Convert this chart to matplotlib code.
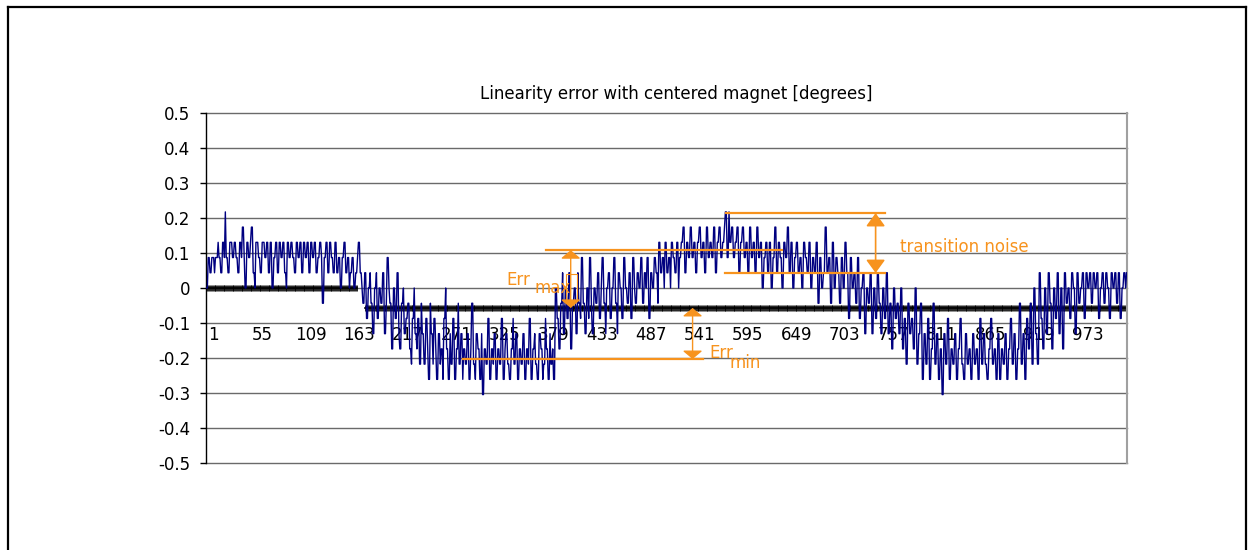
import numpy as np
import matplotlib
matplotlib.use("Agg")
import matplotlib.pyplot as plt
from matplotlib.lines import Line2D
from matplotlib.patches import Rectangle
from matplotlib.transforms import ScaledTranslation

plt.rcParams['font.family'] = ['DejaVu Sans']

LSB_DEG = 0.0435  # one sensor step in degrees

# linearity error per sample in sensor steps (16 samples per row)
err_lsb = [
    0, 0, 2, 2, 1, 1, 2, 2, 2, 1, 2, 2, 2, 3, 2, 2,
    1, 1, 3, 3, 2, 5, 2, 2, 1, 1, 3, 3, 3, 2, 2, 3,
    3, 2, 2, 1, 1, 3, 3, 2, 4, 4, 2, 0, 0, 3, 3, 2,
    2, 3, 4, 4, 1, 1, 0, 3, 3, 3, 2, 2, 1, 1, 3, 3,
    3, 2, 2, 3, 3, 1, 1, 3, 3, 0, 0, 2, 2, 3, 3, 1,
    1, 3, 3, 2, 2, 3, 3, 1, 1, 0, 3, 3, 2, 2, 3, 3,
    2, 2, 1, 1, 3, 3, 2, 2, 3, 3, 1, 1, 3, 3, 2, 2,
    3, 3, 1, 1, 3, 3, 2, 2, 3, 3, 1, 1, 2, 2, 3, 3,
    2, -1, -1, 2, 2, 3, 3, 1, 1, 3, 3, 2, 2, 1, 1, 3,
    3, 1, 1, 2, 2, 0, 0, 2, 2, 3, 3, 1, 1, 2, 2, 0,
    1, 1, 2, 2, 0, 0, 1, 1, 2, 3, 3, 1, 1, 0, -1, -1,
    1, 1, -2, -2, 0, 0, 1, -1, -1, -3, -3, 0, 0, 1, -2, -2,
    0, 0, -1, -1, 1, 1, -3, -3, -1, 2, 2, 0, -1, -1, -4, -4,
    0, 0, -2, -2, 1, 1, -3, -4, -4, -1, -1, 0, -3, -3, -2, -2,
    -1, -1, -4, -4, -5, -2, -2, 0, -3, -3, -4, -2, -2, -5, -5, -1,
    -3, -3, -5, -5, -2, -2, -4, -6, -6, -1, -3, -3, -5, -2, -2, -4,
    -6, -6, -3, -3, -5, -4, -4, -6, -2, -2, 0, -4, -4, -6, -6, -3,
    -5, -5, -2, -2, -6, -6, -4, -4, -1, -5, -5, -3, -3, -6, -4, -4,
    -5, -5, -3, -3, -6, -6, -4, -1, -1, -5, -5, -6, -3, -3, -4, -4,
    -6, -6, -3, -7, -7, -4, -4, -5, -5, -2, -2, -6, -6, -4, -4, -5,
    -3, -3, -6, -6, -4, -4, -5, -5, -2, -2, -6, -6, -4, -3, -3, -5,
    -5, -6, -6, -4, -4, -2, -5, -5, -3, -3, -6, -6, -4, -4, -5, -5,
    -3, -3, -6, -6, -4, -4, -5, -2, -2, -6, -6, -4, -4, -3, -5, -5,
    -6, -6, -3, -3, -4, -4, -6, -5, -5, -2, -4, -4, -6, -6, -3, -5,
    -5, -4, -6, -6, 0, 0, -2, -2, -4, -4, -1, -1, 1, -3, -3, 0,
    0, -2, -2, 1, 1, -4, -4, -1, -1, 0, 0, -3, -3, 1, -1, -1,
    -2, 2, 2, -1, -1, -3, -3, 0, 0, -2, 2, 2, -1, -3, -3, 0,
    0, -1, -1, 1, 1, -2, -2, 0, 2, 2, -1, -1, -3, 0, 0, 1,
    1, -2, -2, 0, 0, 2, 2, -1, -1, -3, 1, 1, 0, 0, -2, -2,
    2, 2, 0, 0, -1, -1, 1, 1, -2, -2, 2, 2, 0, -1, -1, 1,
    1, 0, 0, 2, 2, -1, -1, 1, 1, 0, 2, 2, -2, -2, 1, 1,
    0, 0, 2, 2, 1, 1, -1, 3, 3, 1, 1, 2, 2, 0, 3, 3,
    1, 1, 2, 2, 0, 3, 3, 2, 2, 1, 1, 3, 3, 0, 2, 2,
    3, 3, 4, 4, 1, 1, 3, 3, 2, 2, 4, 4, 2, 2, 3, 3,
    1, 1, 3, 3, 4, 4, 2, 2, 3, 3, 1, 1, 4, 4, 2, 2,
    3, 3, 2, 2, 4, 4, 1, 1, 3, 3, 4, 4, 2, 2, 3, 3,
    4, 5, 5, 2, 2, 5, 3, 3, 4, 4, 2, 2, 3, 3, 4, 4,
    1, 1, 3, 3, 4, 4, 2, 2, 3, 3, 1, 1, 4, 4, 2, 2,
    3, 3, 1, 1, 4, 4, 2, 2, 3, 3, 0, 0, 2, 2, 3, 3,
    1, 1, 3, 3, 0, 0, 2, 2, 4, 4, 1, 1, 3, 3, 2, 2,
    0, 0, 3, 3, 2, 2, 4, 4, 1, 1, 3, 3, 0, 0, 2, 2,
    3, 3, 1, 1, 2, 2, 0, 0, 3, 3, 2, 2, 1, 1, 3, 3,
    0, 0, 2, 2, 1, 1, 3, 3, -1, -1, 2, 2, 0, 0, 1, 1,
    4, 4, 1, 1, 2, 2, -1, -1, 3, 3, 0, 0, 2, 2, 1, 1,
    -1, -1, 2, 2, 0, 0, 3, 3, 1, 1, -2, -2, 2, 2, 0, 0,
    1, 1, -1, -1, 2, 2, -2, -2, 0, 0, 1, 1, -3, -3, 0, 0,
    -1, -1, 1, 1, -3, -3, 0, 0, -2, -2, 1, 1, -1, -1, -3, -3,
    0, 0, -2, -2, 1, 1, -3, -3, -1, -1, -4, -4, 0, 0, -2, -2,
    -1, -1, -3, -3, 0, 0, -4, -4, -2, -2, -5, -5, -1, -1, -3, -3,
    -2, -2, -4, -4, 0, 0, -5, -5, -3, -3, -1, -1, -6, -6, -3, -3,
    -5, -5, -2, -2, -6, -6, -4, -4, -1, -1, -5, -5, -3, -3, -6, -6,
    -4, -4, -7, -7, -3, -3, -5, -5, -2, -2, -6, -6, -4, -4, -5, -5,
    -3, -3, -6, -6, -4, -4, -2, -2, -5, -5, -6, -6, -3, -3, -5, -5,
    -4, -4, -6, -6, -3, -3, -5, -5, -4, -4, -6, -6, -2, -2, -5, -5,
    -3, -3, -5, -5, -6, -6, -4, -4, -2, -2, -5, -5, -4, -4, -6, -6,
    -3, -3, -6, -6, -4, -4, -5, -5, -3, -3, -6, -6, -4, -4, -2, -2,
    -5, -5, -3, -3, -6, -6, -4, -4, -1, -1, -5, -5, -3, -3, -6, -6,
    -2, -2, -4, -4, -1, -1, -5, -5, 0, 0, -3, -3, -5, -5, 1, 1,
    -2, -2, -4, -4, 0, 0, -3, -3, 1, 1, -1, -1, -4, -4, 0, 0,
    -2, -2, 1, 1, -3, -3, 0, 0, -4, -4, 1, 1, -1, -1, 0, 0,
    -2, -2, 1, 1, 0, 0, -3, -3, 1, 1, -1, -1, 0, 0, 1, 1,
    -2, -2, 1, 1, 0, 0, 1, 1, -1, -1, 1, 1, 0, 0, 1, 1,
    -2, -2, 0, 0, 1, 1, -1, -1, 1, 1, 0, 0, -2, -2, 1, 1,
    0, 0, 1, 1, -1, -1, 1, 1, -2, -2, 0, 0, 1, 1, 0, 1,
]
assert len(err_lsb) == 1024, len(err_lsb)

tick_cats = list(range(1, 1000, 54))  # 1, 55, ... 973
y_ticks = [0.5, 0.4, 0.3, 0.2, 0.1, 0.0, -0.1, -0.2, -0.3, -0.4, -0.5]
y_labels = ['0.5', '0.4', '0.3', '0.2', '0.1', '0', '-0.1', '-0.2', '-0.3', '-0.4', '-0.5']

# category axis as it appears in the picture: two pieces at different heights
axis_level = [0.0, -0.057]
axis_span = [(1, 168), (177, 1024)]

# annotation levels [degrees]
err_max_level = 0.108
err_min_level = -0.203
noise_top = 0.214
noise_bottom = 0.043

ORANGE = '#F7931E'
NAVY = '#000080'

err = np.array(err_lsb) * LSB_DEG
cats = np.arange(1, len(err) + 1)

fig = plt.figure(figsize=(12.49, 5.5), dpi=100)
ax = fig.add_axes([206 / 1249, 87 / 550, 921 / 1249, 350 / 550])

# horizontal gridlines incl. top / bottom edge
for yv in y_ticks:
    ax.axhline(yv, color='#6a6a6a', lw=1.0, zorder=1, clip_on=False)

# black category axis with dense tick marks
for lvl, (a, b) in zip(axis_level, axis_span):
    xs = np.arange(a, b + 1)
    ax.plot(xs, np.full(len(xs), lvl), color='black', lw=1.2,
            marker='|', ms=4.5, mew=0.6, zorder=2)

ax.plot(cats, err, color=NAVY, lw=1.0, zorder=3)

ax.set_xlim(0.5, len(err) + 0.5)
ax.set_ylim(-0.5, 0.5)

ax.set_yticks(y_ticks)
ax.set_yticklabels(y_labels)
ax.tick_params(axis='y', length=4.3, width=1, color='black', pad=7, labelsize=12)

ax.spines['bottom'].set_position(('data', -0.057))
ax.spines['bottom'].set_visible(False)
ax.spines['top'].set_visible(False)
ax.spines['right'].set_color('#a0a0a0')
ax.spines['right'].set_linewidth(1.5)
ax.spines['left'].set_linewidth(1.0)
ax.set_xticks(tick_cats)
ax.set_xticklabels([str(c) for c in tick_cats])
ax.tick_params(axis='x', length=0, pad=13, labelsize=12)
shift = ScaledTranslation(7 / 100, 0, fig.dpi_scale_trans)
for lab in ax.get_xticklabels():
    lab.set_transform(lab.get_transform() + shift)

ax.set_title('Linearity error with centered magnet [degrees]', fontsize=12,
             pad=10, x=0.5 + 10 / 921)

# --- annotations ---
ax.plot([379, 641], [err_max_level] * 2, color=ORANGE, lw=1.6, zorder=5)
ax.annotate('', xy=(406, err_max_level), xytext=(406, axis_level[1]),
            arrowprops=dict(arrowstyle='<|-|>,head_length=0.5,head_width=0.6',
                            color=ORANGE, lw=1.0, shrinkA=0, shrinkB=0), zorder=5)
ax.add_patch(Rectangle((401, -0.034), 12, 0.074, fill=False, ec=ORANGE, lw=0.8, zorder=5))
ax.text(335, 0.008, 'Err', color=ORANGE, fontsize=12, va='baseline', ha='left', zorder=6)
ax.text(366, -0.013, 'max', color=ORANGE, fontsize=12, va='baseline', ha='left', zorder=6)

ax.plot([286, 553], [err_min_level] * 2, color=ORANGE, lw=1.6, zorder=5)
ax.annotate('', xy=(541.5, axis_level[1]), xytext=(541.5, err_min_level),
            arrowprops=dict(arrowstyle='<|-|>,head_length=0.5,head_width=0.6',
                            color=ORANGE, lw=1.0, shrinkA=0, shrinkB=0), zorder=5)
ax.text(560, -0.2, 'Err', color=ORANGE, fontsize=12, va='baseline', ha='left', zorder=6)
ax.text(583, -0.229, 'min', color=ORANGE, fontsize=12, va='baseline', ha='left', zorder=6)

ax.plot([579, 755], [noise_top] * 2, color=ORANGE, lw=1.6, zorder=5)
ax.plot([577, 755], [noise_bottom] * 2, color=ORANGE, lw=1.6, zorder=5)
ax.annotate('', xy=(745, noise_top), xytext=(745, noise_bottom),
            arrowprops=dict(arrowstyle='<|-|>,head_length=0.8,head_width=0.58',
                            color=ORANGE, lw=1.2, shrinkA=0, shrinkB=0), zorder=5)
ax.text(772, 0.103, 'transition noise', color=ORANGE, fontsize=12,
        va='baseline', ha='left', zorder=6)

# outer frame of the picture (left, top, right)
W, H = 1249, 550
for xs_, ys_ in [([8, 8], [0, 543]), ([8, 1246], [543, 543]), ([1246, 1246], [0, 543])]:
    fig.add_artist(Line2D([v / W for v in xs_], [v / H for v in ys_],
                          transform=fig.transFigure, color='black', lw=1.6))

fig.savefig('out.png', dpi=100)
